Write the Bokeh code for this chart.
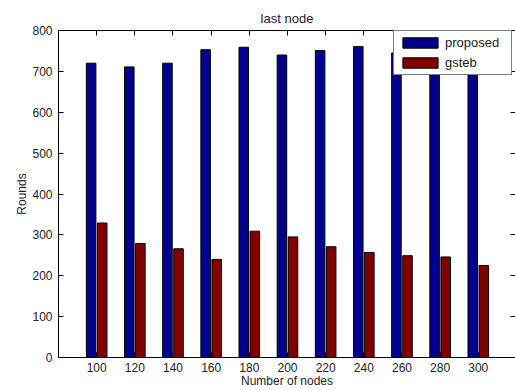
from bokeh.plotting import figure
from bokeh.models import Range1d, LinearAxis, FixedTicker, ColumnDataSource
from bokeh.embed import file_html
from bokeh.resources import INLINE

nodes = [100, 120, 140, 160, 180, 200, 220, 240, 260, 280, 300]
proposed = [720, 711, 720, 753, 759, 740, 751, 761, 745, 738, 732]
gsteb = [329, 279, 266, 240, 309, 295, 271, 257, 249, 246, 225]
y_ticks = [0, 100, 200, 300, 400, 500, 600, 700, 800]

FONT = "Liberation Sans"
OFFSET = 2.9
BAR_W = 5.0

src = ColumnDataSource(dict(
    xb=[n - OFFSET for n in nodes],
    xr=[n + OFFSET for n in nodes],
    proposed=proposed,
    gsteb=gsteb,
))

p = figure(width=515, height=390, output_backend="svg", toolbar_location=None,
           x_range=Range1d(80, 319.5), y_range=Range1d(0, 800),
           min_border_left=58, min_border_right=0, min_border_top=30, min_border_bottom=33,
           title="last node")
p.outline_line_color = None
p.background_fill_color = "white"
p.border_fill_color = "white"
p.xgrid.visible = False
p.ygrid.visible = False

p.title.align = "center"
p.title.text_font = FONT
p.title.text_font_size = "13px"
p.title.text_font_style = "normal"
p.title.text_color = "#222222"

p.vbar(x="xb", top="proposed", width=BAR_W, source=src, fill_color="#00008F",
       line_color="black", line_width=1, legend_label="proposed")
p.vbar(x="xr", top="gsteb", width=BAR_W, source=src, fill_color="#800000",
       line_color="black", line_width=1, legend_label="gsteb")

def style(ax, ticks):
    ax.ticker = FixedTicker(ticks=ticks)
    ax.minor_tick_line_color = None
    ax.major_tick_in = 5
    ax.major_tick_out = 0
    ax.axis_line_color = "black"
    ax.major_tick_line_color = "black"
    ax.major_label_text_font = FONT
    ax.major_label_text_font_size = "12px"
    ax.major_label_text_color = "#222222"
    ax.axis_label_text_font = FONT
    ax.axis_label_text_font_size = "12px"
    ax.axis_label_text_font_style = "normal"
    ax.axis_label_text_color = "#222222"

def tick_only(ax, ticks):
    # ticks drawn as minor ticks so that no labels are produced
    ax.ticker = FixedTicker(ticks=[], minor_ticks=ticks)
    ax.major_tick_line_color = None
    ax.minor_tick_line_color = "black"
    ax.minor_tick_in = 5
    ax.minor_tick_out = 0
    ax.major_tick_in = 0
    ax.major_tick_out = 0
    ax.major_label_standoff = 0

xa = p.xaxis[0]
style(xa, nodes)
xa.axis_label = "Number of nodes"
xa.major_label_standoff = 5
xa.axis_label_standoff = -1

ya = p.yaxis[0]
style(ya, y_ticks)
ya.axis_label = "Rounds"
ya.major_label_standoff = 6
ya.axis_label_standoff = 0

top_ax = LinearAxis()
tick_only(top_ax, nodes)
top_ax.axis_line_color = "black"
p.add_layout(top_ax, "above")

right_ax = LinearAxis()
tick_only(right_ax, y_ticks)
right_ax.axis_line_color = None
p.add_layout(right_ax, "right")

lg = p.legend[0]
lg.location = (335, 282)
lg.margin = 0
lg.padding = 4
lg.spacing = 5
lg.glyph_width = 44
lg.glyph_height = 13
lg.label_height = 13
lg.label_width = 62
lg.label_standoff = 3
lg.label_text_font = FONT
lg.label_text_font_size = "13px"
lg.label_text_color = "#222222"
lg.border_line_color = "black"
lg.border_line_width = 1
lg.background_fill_alpha = 1.0

open("out.html", "w").write(file_html(p, INLINE))
